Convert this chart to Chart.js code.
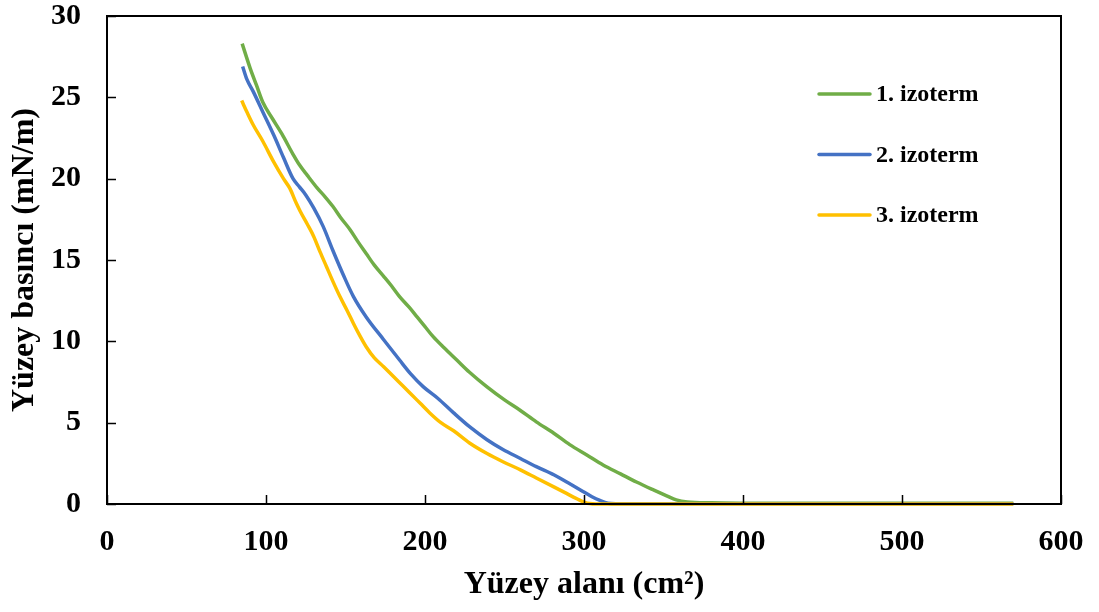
<!DOCTYPE html>
<html>
<head>
<meta charset="utf-8">
<script src="https://cdn.jsdelivr.net/npm/chart.js@4.4.1/dist/chart.umd.min.js"></script>
<style>
  html, body { margin: 0; padding: 0; background: #fff; }
  #wrap { width: 1099px; height: 612px; }
</style>
</head>
<body>
<div id="wrap"><canvas id="chart"></canvas></div>
<script>
// Series labels and colours
const seriesLabels = ["1. izoterm", "2. izoterm", "3. izoterm"];
const seriesColors = ["#70AD47", "#4472C4", "#FFC000"];

// Axis ticks
const xTicks = [0, 100, 200, 300, 400, 500, 600];
const yTicks = [0, 5, 10, 15, 20, 25, 30];

// 1. izoterm (area cm², pressure mN/m)
const area1 = [85, 90, 94, 98, 104, 110, 117, 121, 126, 132, 137, 142, 147, 153, 158, 163, 168, 174, 179, 184, 190, 195, 200, 205, 212, 220, 228, 239, 250, 260, 270, 281, 291, 302, 312, 323, 333, 344, 352, 358, 365, 380, 400, 450, 500, 550, 570];
const pressure1 = [28.3, 26.8, 25.75, 24.7, 23.7, 22.75, 21.5, 20.85, 20.2, 19.45, 18.9, 18.3, 17.6, 16.85, 16.1, 15.4, 14.7, 14.0, 13.4, 12.75, 12.1, 11.5, 10.9, 10.3, 9.6, 8.85, 8.1, 7.2, 6.4, 5.75, 5.05, 4.35, 3.65, 3.0, 2.4, 1.85, 1.35, 0.85, 0.5, 0.25, 0.12, 0.07, 0.05, 0.04, 0.04, 0.05, 0.05];

// 2. izoterm
const area2 = [85.3, 88, 92, 98, 105, 111, 117, 121, 125, 130, 136, 142, 149, 155, 163, 174, 184, 191, 199, 208, 218, 228, 239, 249, 260, 270, 281, 290, 298, 305, 310, 315, 320, 400, 500, 570];
const pressure2 = [26.9, 26.1, 25.35, 24.1, 22.65, 21.3, 20.0, 19.5, 19.0, 18.2, 17.05, 15.6, 14.0, 12.75, 11.5, 10.1, 8.85, 8.0, 7.2, 6.5, 5.6, 4.75, 3.95, 3.35, 2.8, 2.3, 1.8, 1.3, 0.85, 0.45, 0.22, 0.05, 0.02, 0.02, 0.02, 0.02];

// 3. izoterm
const area3 = [84.7, 88, 92, 98, 105, 111, 115, 119, 121.5, 126, 130, 134, 138, 142, 146.5, 151, 155, 159, 163, 168, 174, 180, 186, 191, 197, 203, 210, 218, 228, 239, 249, 260, 270, 281, 289, 295, 302, 310, 400, 500, 570];
const pressure3 = [24.8, 24.1, 23.3, 22.3, 21.0, 20.0, 19.4, 18.5, 18.0, 17.2, 16.45, 15.5, 14.6, 13.7, 12.75, 11.9, 11.1, 10.35, 9.67, 9.0, 8.44, 7.85, 7.27, 6.78, 6.19, 5.6, 5.0, 4.5, 3.75, 3.1, 2.6, 2.1, 1.6, 1.05, 0.65, 0.35, 0.05, 0, 0, 0, 0];

const areas = [area1, area2, area3];
const pressures = [pressure1, pressure2, pressure3];

const FONT = "'Liberation Serif', 'Times New Roman', serif";

const datasets = seriesLabels.map((label, i) => ({
  label: label,
  data: areas[i].map((x, k) => ({ x: x, y: pressures[i][k] })),
  borderColor: seriesColors[i],
  backgroundColor: seriesColors[i],
  borderWidth: 3.5,
  pointRadius: 0,
  showLine: true,
  cubicInterpolationMode: "monotone",
  clip: false,
  order: 2 - i,
}));

// frame, inward tick marks and the legend inside the plot
const framePlugin = {
  id: "frame",
  afterDraw(chart) {
    const { ctx, chartArea: a, scales } = chart;
    ctx.save();
    ctx.strokeStyle = "#000";
    ctx.lineWidth = 2;
    ctx.strokeRect(a.left, a.top, a.right - a.left, a.bottom - a.top);
    ctx.beginPath();
    xTicks.forEach((v) => {
      const px = Math.round(scales.x.getPixelForValue(v)) + 0.5;
      ctx.moveTo(px, a.bottom);
      ctx.lineTo(px, a.bottom - 9);
    });
    yTicks.forEach((v) => {
      const py = Math.round(scales.y.getPixelForValue(v)) + 0.5;
      ctx.moveTo(a.left, py);
      ctx.lineTo(a.left + 9, py);
    });
    ctx.lineWidth = 1.5;
    ctx.stroke();

    // legend
    ctx.font = "bold 24px " + FONT;
    ctx.textBaseline = "middle";
    ctx.fillStyle = "#000";
    ctx.lineCap = "round";
    chart.data.datasets.forEach((ds, i) => {
      const y = 94 + i * 60.5;
      ctx.beginPath();
      ctx.strokeStyle = ds.borderColor;
      ctx.lineWidth = 3.5;
      ctx.moveTo(819, y);
      ctx.lineTo(870, y);
      ctx.stroke();
      ctx.fillText(ds.label, 876, y + 1);
    });
    ctx.restore();
  },
};

function noPad(s) {
  s.paddingTop = 0;
  s.paddingBottom = 0;
  s.paddingLeft = 0;
  s.paddingRight = 0;
}

new Chart(document.getElementById("chart"), {
  type: "scatter",
  data: { datasets: datasets },
  options: {
    responsive: true,
    maintainAspectRatio: false,
    animation: false,
    layout: { padding: { top: 16, right: 38, bottom: 0, left: 0 } },
    plugins: {
      legend: { display: false },
      tooltip: { enabled: false },
    },
    scales: {
      x: {
        type: "linear",
        min: 0,
        max: 600,
        afterFit: (s) => { s.height = 108; noPad(s); },
        afterBuildTicks: (s) => { s.ticks = xTicks.map((v) => ({ value: v })); },
        grid: { display: false, drawTicks: false },
        border: { display: false },
        ticks: {
          color: "#000",
          padding: 20,
          maxRotation: 0,
          font: { family: FONT, size: 30, weight: "bold" },
        },
        title: {
          display: true,
          text: "Yüzey alanı (cm²)",
          color: "#000",
          padding: { top: 0, bottom: 8 },
          font: { family: FONT, size: 32, weight: "bold" },
        },
      },
      y: {
        type: "linear",
        min: 0,
        max: 30,
        afterFit: (s) => { s.width = 107; noPad(s); },
        afterBuildTicks: (s) => { s.ticks = yTicks.map((v) => ({ value: v })); },
        grid: { display: false, drawTicks: false },
        border: { display: false },
        ticks: {
          color: "#000",
          padding: 26,
          font: { family: FONT, size: 30, weight: "bold" },
        },
        title: {
          display: true,
          text: "Yüzey basıncı (mN/m)",
          color: "#000",
          padding: { top: 6, bottom: 0 },
          font: { family: FONT, size: 32, weight: "bold" },
        },
      },
    },
  },
  plugins: [framePlugin],
});
</script>
</body>
</html>
